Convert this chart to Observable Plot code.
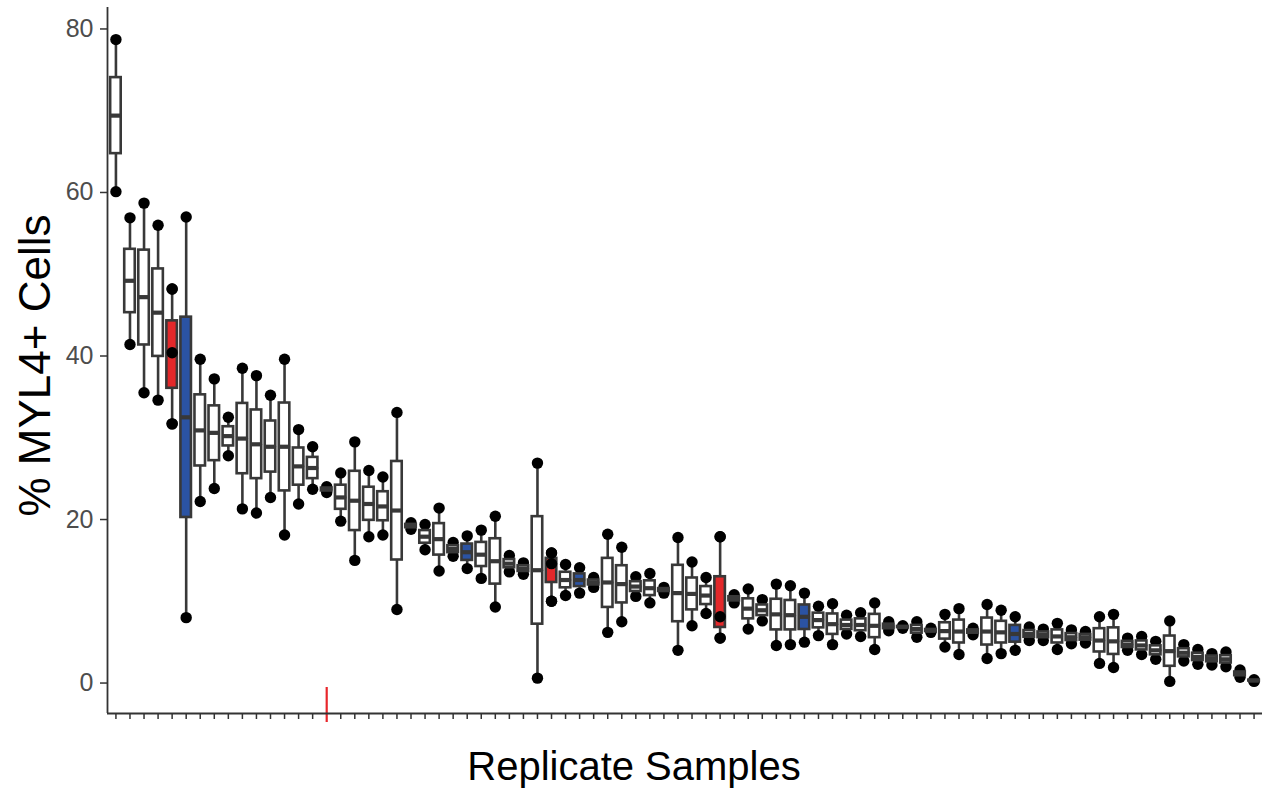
<!DOCTYPE html>
<html>
<head>
<meta charset="utf-8">
<script src="https://cdn.jsdelivr.net/npm/d3@7"></script>
<script src="https://cdn.jsdelivr.net/npm/@observablehq/plot@0.6"></script>
<style>
  html, body { margin: 0; padding: 0; background: #fff; }
  svg { display: block; }
</style>
</head>
<body>
<div id="chart"></div>
<script>
// ---- Data (three replicate measurements per sample, % MYL4+ cells) ----
const samples = d3.range(1, 83).map(i => "S" + i);

const repLow = [60.1, 41.4, 35.5, 34.6, 31.7, 8.0, 22.2, 23.8, 27.8, 21.3,
  20.8, 22.7, 18.1, 21.9, 23.7, 23.3, 19.8, 15.0, 17.9, 18.1,
  9.0, 18.8, 16.3, 13.7, 15.5, 14.0, 12.8, 9.3, 13.6, 13.3,
  0.6, 10.0, 10.7, 11.0, 11.7, 6.2, 7.5, 10.6, 9.8, 11.0,
  4.0, 7.0, 8.5, 5.5, 9.8, 6.6, 7.6, 4.6, 4.7, 5.0,
  5.8, 4.7, 6.0, 5.7, 4.1, 6.4, 6.7, 5.6, 6.2, 4.4,
  3.5, 5.9, 3.0, 3.6, 4.0, 5.2, 5.2, 4.1, 4.8, 4.9,
  2.4, 1.9, 4.0, 3.5, 2.9, 0.2, 2.7, 2.3, 2.2, 2.0,
  0.7, 0.2];

const repMid = [69.4, 49.2, 47.2, 45.3, 40.4, 32.5, 30.9, 30.6, 30.2, 29.9,
  29.2, 28.9, 28.9, 26.5, 26.3, 23.7, 22.7, 22.3, 21.9, 21.6,
  21.1, 19.2, 17.9, 17.6, 16.4, 16.0, 15.7, 14.9, 14.6, 14.0,
  13.8, 14.6, 12.6, 12.6, 12.3, 12.3, 12.1, 11.8, 11.6, 11.4,
  11.0, 10.9, 10.7, 8.1, 10.3, 9.1, 8.9, 8.4, 8.3, 8.1,
  7.7, 7.2, 7.1, 7.1, 7.0, 6.9, 6.85, 6.6, 6.4, 6.35,
  6.3, 6.3, 6.3, 6.2, 6.0, 6.0, 5.9, 5.7, 5.6, 5.6,
  5.2, 5.1, 4.7, 4.6, 4.0, 3.9, 3.7, 3.2, 3.0, 2.9,
  1.1, 0.3];

const repHigh = [78.7, 56.9, 58.7, 56.0, 48.2, 57.0, 39.6, 37.2, 32.5, 38.5,
  37.6, 35.2, 39.6, 31.0, 28.9, 24.0, 25.7, 29.5, 26.0, 25.2,
  33.1, 19.6, 19.4, 21.4, 17.2, 18.0, 18.7, 20.4, 15.6, 14.7,
  26.9, 15.9, 14.5, 14.1, 12.9, 18.2, 16.6, 13.0, 13.4, 11.7,
  17.8, 14.8, 12.9, 17.9, 10.8, 11.5, 10.2, 12.1, 11.9, 11.0,
  9.4, 9.7, 8.3, 8.6, 9.8, 7.5, 7.0, 7.5, 6.7, 8.4,
  9.1, 6.7, 9.6, 8.9, 8.1, 6.85, 6.6, 7.3, 6.5, 6.3,
  8.1, 8.4, 5.5, 5.7, 5.1, 7.6, 4.7, 4.1, 3.6, 3.8,
  1.6, 0.4];

const redSamples = ["S5", "S32", "S44"];
const blueSamples = ["S6", "S26", "S34", "S50", "S65"];
const markedSample = "S16";
const yTicks = [0, 20, 40, 60, 80];

const colors = { red: "#e3282a", blue: "#2b53a3", white: "#ffffff", line: "#383838" };

// ---- Derived tables ----
const stats = samples.map((s, i) => {
  const v = [repLow[i], repMid[i], repHigh[i]].sort(d3.ascending);
  return {
    sample: s, i,
    min: d3.min(v), max: d3.max(v),
    q1: d3.quantile(v, 0.25), med: d3.quantile(v, 0.5), q3: d3.quantile(v, 0.75),
    fill: redSamples.includes(s) ? colors.red : blueSamples.includes(s) ? colors.blue : colors.white
  };
});
const points = stats.flatMap((d, k) =>
  [repLow[k], repMid[k], repHigh[k]].map(v => ({ sample: d.sample, i: d.i, v, red: redSamples.includes(d.sample) })));

const n = samples.length;
const markIdx = samples.indexOf(markedSample);
const ext = d3.extent(points, d => d.v);
const pad = (ext[1] - ext[0]) * 0.05;
const yDomain = [ext[0] - pad, ext[1] + pad];
const half = 0.375;

const plot = Plot.plot({
  width: 1262,
  height: 793,
  marginLeft: 107,
  marginRight: 0,
  marginTop: 7,
  marginBottom: 80,
  x: { type: "linear", domain: [-0.6, n - 0.4] },
  y: { domain: yDomain },
  style: { fontFamily: "'Liberation Sans', Arial, Helvetica, sans-serif", background: "#fff", overflow: "visible" },
  marks: [
    Plot.axisY(yTicks, { tickSize: 7, tickPadding: 7, fontSize: 25, fill: "#4d4d4d", stroke: "#333", strokeWidth: 1.5, label: null }),
    Plot.axisX(d3.range(n).filter(i => i !== markIdx), { tickSize: 6, tickFormat: () => "", stroke: "#333", strokeWidth: 1.5, label: null }),
    Plot.ruleX([markIdx], { stroke: "#e8262b", strokeWidth: 2.2, insetTop: 680, insetBottom: -9 }),
    Plot.ruleX([-0.6], { stroke: "#333", strokeWidth: 1.8 }),
    Plot.ruleY([yDomain[0]], { stroke: "#333", strokeWidth: 1.8 }),
    // whiskers
    Plot.ruleX(stats, { x: "i", y1: "min", y2: "max", stroke: colors.line, strokeWidth: 2.6 }),
    // replicate points (under boxes)
    Plot.dot(points, { x: "i", y: "v", r: 5.7, fill: "black", stroke: null }),
    // boxes
    Plot.rect(stats, { x1: d => d.i - half, x2: d => d.i + half, y1: "q1", y2: "q3", fill: "fill", stroke: colors.line, strokeWidth: 2.6 }),
    // medians
    Plot.ruleY(stats, { y: "med", x1: d => d.i - half, x2: d => d.i + half, stroke: colors.line, strokeWidth: 4.2 }),
    // points on top of red boxes
    Plot.dot(points.filter(d => d.red), { x: "i", y: "v", r: 5.7, fill: "black", stroke: null }),
    // axis titles
    Plot.text(["Replicate Samples"], { frameAnchor: "bottom", dx: -51, dy: 66, fontSize: 40, fill: "black" }),
    Plot.text(["% MYL4+ Cells"], { frameAnchor: "left", textAnchor: "middle", rotate: -90, dx: -72, dy: 5, fontSize: 44, fill: "black" })
  ]
});

document.getElementById("chart").appendChild(plot);
</script>
</body>
</html>
